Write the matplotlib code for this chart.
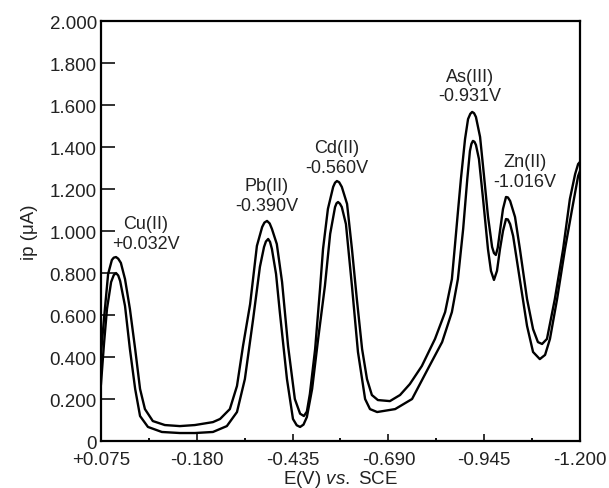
import numpy as np
import matplotlib.pyplot as plt

# Stripping voltammograms: current ip (uA) against potential E (V vs SCE)

plt.rcParams['font.family'] = ['Liberation Sans', 'DejaVu Sans']
plt.rcParams['mathtext.fontset'] = 'custom'
plt.rcParams['mathtext.rm'] = 'Liberation Sans'
plt.rcParams['mathtext.it'] = 'Liberation Sans:italic'

# upper trace
e_upper = [0.075, 0.067, 0.056, 0.046, 0.041, 0.035, 0.029, 0.022, 0.011, -0.002,
           -0.016, -0.029, -0.042, -0.063, -0.095, -0.135, -0.175, -0.223, -0.242, -0.268,
           -0.287, -0.303, -0.322, -0.340, -0.354, -0.360, -0.367, -0.374, -0.380, -0.393,
           -0.407, -0.423, -0.441, -0.455, -0.465, -0.473, -0.481, -0.495, -0.508, -0.516,
           -0.529, -0.543, -0.548, -0.553, -0.559, -0.566, -0.580, -0.593, -0.606, -0.620,
           -0.633, -0.646, -0.662, -0.694, -0.721, -0.747, -0.779, -0.814, -0.841, -0.859,
           -0.867, -0.875, -0.883, -0.894, -0.902, -0.908, -0.913, -0.918, -0.923, -0.934,
           -0.944, -0.955, -0.966, -0.971, -0.976, -0.981, -0.987, -0.995, -1.003, -1.008,
           -1.014, -1.027, -1.040, -1.059, -1.075, -1.088, -1.099, -1.112, -1.133, -1.155,
           -1.173, -1.187, -1.195, -1.200]
ip_upper = [0.414, 0.581, 0.795, 0.862, 0.873, 0.876, 0.868, 0.848, 0.771, 0.629,
            0.438, 0.248, 0.152, 0.095, 0.076, 0.071, 0.076, 0.090, 0.105, 0.152,
            0.262, 0.452, 0.652, 0.929, 1.019, 1.040, 1.048, 1.036, 1.010, 0.938,
            0.757, 0.452, 0.200, 0.130, 0.119, 0.140, 0.224, 0.438, 0.724, 0.914,
            1.105, 1.210, 1.230, 1.238, 1.232, 1.210, 1.129, 0.914, 0.676, 0.438,
            0.295, 0.219, 0.195, 0.190, 0.219, 0.271, 0.357, 0.486, 0.614, 0.771,
            0.929, 1.090, 1.248, 1.438, 1.533, 1.558, 1.567, 1.561, 1.543, 1.448,
            1.271, 1.071, 0.924, 0.895, 0.886, 0.920, 1.000, 1.105, 1.162, 1.160,
            1.143, 1.067, 0.914, 0.676, 0.533, 0.471, 0.462, 0.486, 0.676, 0.914,
            1.152, 1.271, 1.319, 1.329]

# lower trace
e_lower = [0.075, 0.067, 0.059, 0.048, 0.041, 0.035, 0.029, 0.024, 0.011, -0.002,
           -0.016, -0.029, -0.050, -0.087, -0.135, -0.175, -0.223, -0.260, -0.287, -0.308,
           -0.330, -0.348, -0.359, -0.364, -0.370, -0.375, -0.380, -0.391, -0.401, -0.420,
           -0.436, -0.446, -0.455, -0.464, -0.473, -0.487, -0.503, -0.521, -0.535, -0.548,
           -0.552, -0.556, -0.561, -0.566, -0.577, -0.593, -0.609, -0.628, -0.641, -0.660,
           -0.708, -0.753, -0.795, -0.833, -0.859, -0.875, -0.889, -0.900, -0.907, -0.911,
           -0.915, -0.919, -0.923, -0.931, -0.942, -0.955, -0.963, -0.971, -0.979, -0.987,
           -0.995, -1.003, -1.008, -1.014, -1.022, -1.040, -1.059, -1.075, -1.093, -1.107,
           -1.120, -1.139, -1.160, -1.179, -1.195, -1.200]
ip_lower = [0.271, 0.462, 0.629, 0.757, 0.790, 0.800, 0.788, 0.762, 0.643, 0.438,
            0.248, 0.119, 0.067, 0.043, 0.038, 0.038, 0.043, 0.071, 0.138, 0.295,
            0.581, 0.829, 0.924, 0.950, 0.962, 0.948, 0.914, 0.795, 0.614, 0.295,
            0.105, 0.075, 0.067, 0.078, 0.114, 0.248, 0.486, 0.738, 0.986, 1.114,
            1.132, 1.138, 1.130, 1.114, 1.033, 0.738, 0.424, 0.200, 0.152, 0.138,
            0.152, 0.200, 0.343, 0.471, 0.614, 0.771, 1.010, 1.248, 1.381, 1.415,
            1.429, 1.425, 1.410, 1.343, 1.152, 0.914, 0.810, 0.767, 0.810, 0.914,
            1.000, 1.057, 1.055, 1.033, 0.976, 0.767, 0.548, 0.424, 0.390, 0.410,
            0.486, 0.676, 0.914, 1.105, 1.262, 1.286]

# peak labels
ions = ['Cu(II)', 'Pb(II)', 'Cd(II)', 'As(III)', 'Zn(II)']
peak_e = ['+0.032V', '-0.390V', '-0.560V', '-0.931V', '-1.016V']
label_x = [-0.045, -0.367, -0.553, -0.907, -1.054]
label_y = [0.988, 1.169, 1.350, 1.690, 1.283]

xticks = [0.075, -0.180, -0.435, -0.690, -0.945, -1.200]
xticklabels = ['+0.075', '-0.180', '-0.435', '-0.690', '-0.945', '-1.200']
xminor = [-0.0525, -0.3075, -0.5625, -0.8175, -1.0725]
yticks = [0.0, 0.2, 0.4, 0.6, 0.8, 1.0, 1.2, 1.4, 1.6, 1.8, 2.0]
yticklabels = ['0', '0.200', '0.400', '0.600', '0.800', '1.000', '1.200',
               '1.400', '1.600', '1.800', '2.000']

fig = plt.figure(figsize=(6.09, 4.89), dpi=100)
ax = fig.add_axes([0.1658, 0.0961, 0.7866, 0.8589])

ax.plot(e_upper, ip_upper, color='black', lw=1.7)
ax.plot(e_lower, ip_lower, color='black', lw=1.7)

for ion, pe, lx, ly in zip(ions, peak_e, label_x, label_y):
    ax.text(lx, ly, ion + '\n' + pe, ha='center', va='center', fontsize=13,
            linespacing=1.2, color='#222222')

ax.set_xlim(0.075, -1.200)
ax.set_ylim(0, 2.0)

ax.set_xticks(xticks, xticklabels)
ax.set_xticks(xminor, minor=True)
ax.set_yticks(yticks, yticklabels)

ax.tick_params(axis='x', which='major', direction='in', length=5, width=1.3,
               labelsize=13.5, pad=7, colors='#222222')
ax.tick_params(axis='x', which='minor', direction='in', length=2.5, width=1.3)
ax.tick_params(axis='y', direction='in', length=10, width=1.3, labelsize=13.5,
               pad=3, colors='#222222')
for s in ax.spines.values():
    s.set_linewidth(1.6)

ax.set_ylabel('ip (\u03bcA)', fontsize=13.5, color='#222222', labelpad=8)
ax.set_xlabel('E(V) $\\mathit{vs.}$ SCE', fontsize=13.5, color='#222222', labelpad=0)

fig.savefig('out.png', dpi=100)
